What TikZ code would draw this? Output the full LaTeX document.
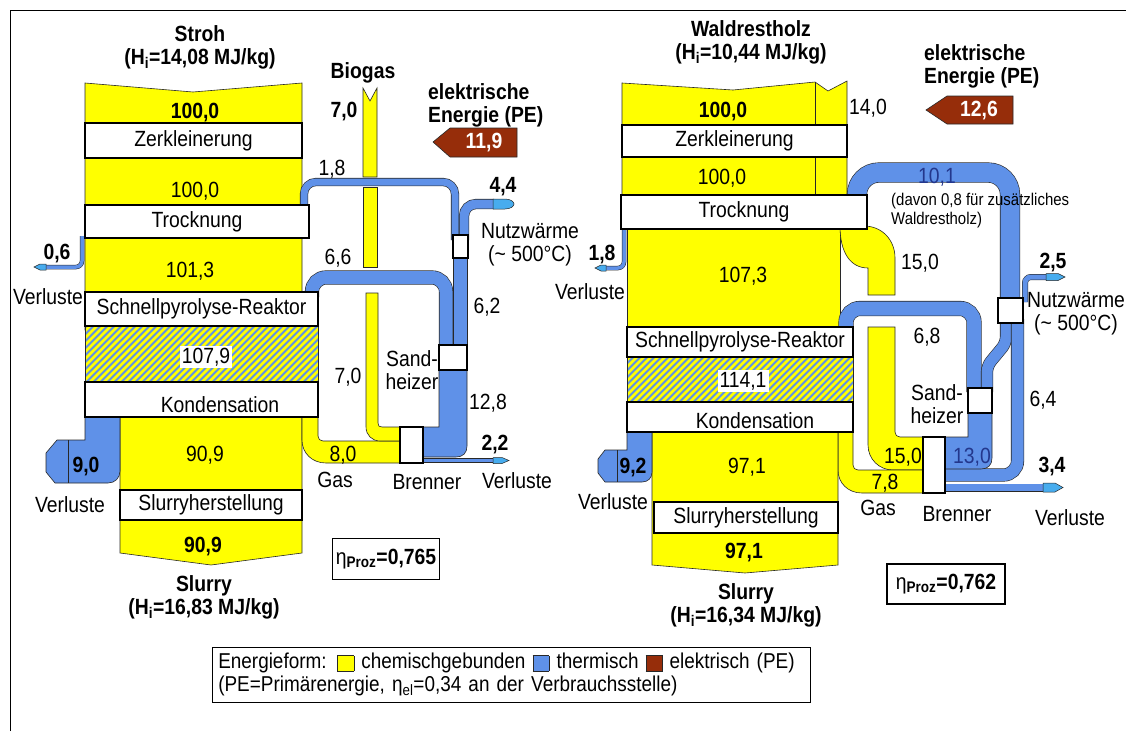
\documentclass[tikz,border=0pt]{standalone}
\usepackage{fontspec}
\setmainfont{Liberation Sans}[FakeStretch=0.88]

\definecolor{chemgelb}{RGB}{255,255,0}
\definecolor{waerme}{RGB}{95,145,232}
\definecolor{strom}{RGB}{150,45,10}
\definecolor{dunkelblau}{RGB}{35,55,140}
\definecolor{rand}{RGB}{40,40,40}

\newcommand{\gs}{\fontsize{22}{23}\selectfont}
\newcommand{\ks}{\fontsize{17}{19}\selectfont}
\newcommand{\farbfeld}[1]{\raisebox{-2pt}{\setlength{\fboxsep}{0pt}\fcolorbox{rand}{#1}{\rule{0pt}{15pt}\hspace{16pt}}}}

\tikzset{
  txt/.style={font=\gs, inner sep=1pt},
  fett/.style={font=\gs\bfseries, inner sep=1pt, align=center},
  klein/.style={font=\ks, inner sep=1pt, anchor=west},
  kasten/.style={draw=black, line width=1.3pt, fill=white, font=\gs, inner sep=0pt},
  chem/.style={fill=chemgelb, draw=rand, line width=0.6pt},
  therm/.style={fill=waerme, draw=rand, line width=0.6pt},
  rohr/.style={draw=rand, line width=0.6pt, double=waerme, double distance=#1, rounded corners=12pt},
  verlust/.style={draw=rand, line width=0.5pt, double=waerme, double distance=3.5pt, rounded corners=6pt},
  spitze/.style={fill=waerme!75!cyan, draw=rand, line width=0.5pt},
  strompfeil/.style={fill=strom, draw=rand, line width=0.6pt},
}

\begin{document}
\begin{tikzpicture}[x=1pt, y=-1pt]
    \fill[white] (0,0) rectangle (1126,731);
    \useasboundingbox (0,0) rectangle (1126,731);
    \draw[line width=1pt] (10,731) -- (10,10) -- (1126,10);

    % ---------- Stroh ----------
    \draw[chem] (85,83) -- (193,92) -- (302,83) -- (302,330) -- (85,330) -- cycle;
    \draw[chem] (120,415) -- (302,415) -- (302,553) -- (211,565) -- (120,553) -- cycle;
    \fill[waerme] (85,326) rectangle (318,382);
    \begin{scope}
        \clip (85,326) rectangle (318,382);
        \foreach \i in {20,27,...,320}
            \draw[chemgelb, line width=2.6pt] (\i,382) -- ++(56,-56);
    \end{scope}
    \draw[rand, line width=0.6pt] (85,326) -- (85,382) (318,326) -- (318,382);
    \draw[chem] (302,415) -- (318,415) -- (318,436) .. controls (318,439) and (320,441) .. (323,441) -- (402,441) -- (402,463) -- (326,463) .. controls (312,463) and (302,453) .. (302,440) -- cycle;
    \draw[chem] (363,88) -- (370,101) -- (377,88) -- (377,177) -- (363,177) -- cycle;
    \draw[chem] (363,187) rectangle (377,267);
    \draw[chem] (366,293) -- (378,293) -- (378,423) .. controls (378,426) and (379,427) .. (382,427) -- (402,427) -- (402,441) -- (380,441) .. controls (372,441) and (366,435) .. (366,427) -- cycle;

    \draw[verlust] (82,236) -- (82,267) -- (46,267);
    \draw[spitze] (46,264) -- (40,264) -- (34,267) -- (40,270) -- (46,270) -- cycle;
    \draw[therm] (85,415) -- (120,415) -- (120,471) .. controls (120,478) and (115,483) .. (108,483) -- (55,483) -- (46,472) -- (46,453) -- (57,440) -- (85,440) -- cycle;
    \draw[rand, line width=0.6pt] (68,440) -- (68,483);
    \draw[rohr=7pt] (304,210) -- (304,182) -- (455,182) -- (455,240);
    \draw[rohr=9pt] (464,240) -- (464,204) -- (494,204);
    \draw[spitze] (493,199) -- (505,199) .. controls (511,199) and (514,202) .. (514,204) .. controls (514,206) and (511,209) .. (505,209) -- (493,209) -- cycle;
    \draw[rohr=13pt] (460.5,253) -- (460.5,350);
    \draw[rohr=13pt, rounded corners=14pt] (312,297) -- (312,277.5) -- (446,277.5) -- (446,350);
    \draw[therm] (439,366) -- (467,366) -- (467,446) .. controls (467,453) and (463,457) .. (456,457) -- (423,457) -- (423,427) -- (439,427) -- cycle;
    \draw[verlust] (421,460.5) -- (493,460.5);
    \draw[spitze] (493,457.5) -- (502,457.5) -- (509,460.5) -- (502,463.5) -- (493,463.5) -- cycle;
    \draw[strompfeil] (433,142) -- (450,128) -- (517,128) -- (517,157) -- (450,157) -- cycle;

    \node[kasten, minimum width=217, minimum height=35] (zerkA) at (193.5,140.5) {Zerkleinerung};
    \node[kasten, minimum width=224, minimum height=33] (trockA) at (197,221.5) {Trocknung};
    \node[kasten, minimum width=233, minimum height=34] (reaktA) at (201.5,309) {Schnellpyrolyse-Reaktor};
    \node[kasten, minimum width=233, minimum height=35] (kondA) at (201.5,399.5) {};
    \node[kasten, minimum width=182, minimum height=30] (slurA) at (211,505) {Slurryherstellung};
    \node[kasten, minimum width=23, minimum height=36] (brennA) at (411.5,445) {};
    \node[kasten, minimum width=28, minimum height=25] (hxA) at (453,357.5) {};
    \node[kasten, minimum width=15, minimum height=23] (nutzA) at (460.5,246.5) {};

    \node[fett] (strohA) at (200,47) {Stroh\\(H\textsubscript{i}=14,08 MJ/kg)};
    \node[fett] (biogasA) at (363,73) {Biogas};
    \node[fett] (bioA) at (344,112) {7,0};
    \node[fett, anchor=west, align=left] (elA) at (427,105) {elektrische\\Energie (PE)};
    \node[fett, text=white] (peA) at (484,143) {11,9};
    \node[fett] (inA) at (195,113) {100,0};
    \node[txt] (zkA) at (195,191) {100,0};
    \node[txt] (tr18A) at (332,169) {1,8};
    \node[fett] (nw44A) at (503,187) {4,4};
    \node[txt, align=center] (nwA) at (530,245) {Nutzwärme\\(\textasciitilde{} 500°C)};
    \node[fett] (v06A) at (57,254) {0,6};
    \node[txt] (v1A) at (48,297) {Verluste};
    \node[txt] (trA) at (190,271) {101,3};
    \node[txt] (r66A) at (338,258) {6,6};
    \node[txt, fill=white, inner sep=2pt] (pyA) at (206,357) {107,9};
    \node[txt] (h62A) at (487,307) {6,2};
    \node[txt] (g70A) at (348,377) {7,0};
    \node[txt, align=center] (sandA) at (412,370) {Sand-\\heizer};
    \node[txt] (h128A) at (488,403) {12,8};
    \node[txt] (kondtA) at (220,405) {Kondensation};
    \node[fett] (v22A) at (495,445) {2,2};
    \node[txt] (g80A) at (343,455) {8,0};
    \node[txt] (kdA) at (205,455) {90,9};
    \node[fett] (v90A) at (86,467) {9,0};
    \node[txt] (gasA) at (335,480) {Gas};
    \node[txt] (brA) at (427,482) {Brenner};
    \node[txt] (v3A) at (517,481) {Verluste};
    \node[txt] (v2A) at (70,505) {Verluste};
    \node[fett] (outA) at (203,547) {90,9};
    \node[fett] (slurryA) at (204,597) {Slurry\\(H\textsubscript{i}=16,83 MJ/kg)};
    \node[draw, line width=1.3pt, minimum width=105, minimum height=41, font=\gs] (etaA) at (386,559) {η\textsubscript{\bfseries Proz}\textbf{=0,765}};

    % ---------- Waldrestholz ----------
    \draw[chem] (622,83) -- (733,90) -- (815,82) -- (828,91) -- (847,81) -- (847,199) -- (622,199) -- cycle;
    \draw[rand, line width=0.6pt] (815,82) -- (815,199);
    \draw[chem] (627,225) -- (840,225) -- (840,331) -- (627,331) -- cycle;
    \draw[chem] (840,226) .. controls (840,252) and (850,268) .. (868,268) -- (868,295) -- (895,295) -- (895,258) .. controls (895,240) and (882,226) .. (864,226) -- cycle;
    \draw[chem] (868,327) -- (895,327) -- (895,432) .. controls (895,435) and (897,437) .. (900,437) -- (925,437) -- (925,470) -- (893,470) .. controls (879,470) and (868,459) .. (868,445) -- cycle;
    \draw[chem] (838,428) -- (853,428) -- (853,465) .. controls (853,468) and (855,470) .. (858,470) -- (925,470) -- (925,493) -- (862,493) .. controls (848,493) and (838,483) .. (838,470) -- cycle;
    \draw[chem] (652,428) -- (838,428) -- (838,565) -- (745,573) -- (652,565) -- cycle;
    \fill[waerme] (627,357) rectangle (853,402);
    \begin{scope}
        \clip (627,357) rectangle (853,402);
        \foreach \i in {578,585,...,860}
            \draw[chemgelb, line width=2.6pt] (\i,402) -- ++(45,-45);
    \end{scope}
    \draw[rand, line width=0.6pt] (627,357) -- (627,402) (853,357) -- (853,402);

    \draw[verlust] (624,226) -- (624,268) -- (606,268);
    \draw[spitze] (606,265) -- (601,265) -- (595,268) -- (601,271) -- (606,271) -- cycle;
    \draw[therm] (627,428) -- (652,428) -- (652,472) .. controls (652,478) and (648,482) .. (642,482) -- (605,482) -- (598,473) -- (598,459) -- (605,450) -- (627,450) -- cycle;
    \draw[rand, line width=0.6pt] (617,450) -- (617,482);
    \draw[rohr=19pt, rounded corners=22pt] (857,200) -- (857,172.5) -- (1010,172.5) -- (1010,303);
    \draw[verlust, double distance=5pt] (1025,302) -- (1025,277) -- (1046,277);
    \draw[spitze] (1046,273.5) -- (1058,273.5) -- (1065,277) -- (1058,280.5) -- (1046,280.5) -- cycle;
    \draw[rohr=14pt, rounded corners=14pt] (846,331) -- (846,308.5) -- (974,308.5) -- (974,392);
    \draw[rohr=11pt, rounded corners=6pt] (987,392) -- (987,366) -- (1006,343) -- (1006,319);
    \draw[rohr=12pt, rounded corners=14pt] (1017.5,319) -- (1017.5,475) -- (943,475);
    \draw[therm] (968,409) -- (992,409) -- (992,458) .. controls (992,465) and (988,469) .. (981,469) -- (943,469) -- (943,437) -- (968,437) -- cycle;
    \draw[verlust, double distance=7pt] (943,487.5) -- (1043,487.5);
    \draw[spitze] (1043,483) -- (1055,483) -- (1063,487.5) -- (1055,492) -- (1043,492) -- cycle;
    \draw[strompfeil] (926,110) -- (947,96) -- (1013,96) -- (1013,124) -- (947,124) -- cycle;

    \node[kasten, minimum width=225, minimum height=32] (zerkB) at (734.5,141) {Zerkleinerung};
    \node[kasten, minimum width=246, minimum height=34] (trockB) at (744,212) {Trocknung};
    \node[kasten, minimum width=226, minimum height=30] (reaktB) at (740,342) {Schnellpyrolyse-Reaktor};
    \node[kasten, minimum width=226, minimum height=30] (kondB) at (740,417) {};
    \node[kasten, minimum width=184, minimum height=31] (slurB) at (746,517.5) {Slurryherstellung};
    \node[kasten, minimum width=22, minimum height=56] (brennB) at (934,465) {};
    \node[kasten, minimum width=24, minimum height=25] (hxB) at (980,400.5) {};
    \node[kasten, minimum width=25, minimum height=25] (nutzB) at (1010.5,310.5) {};

    \node[fett] (holzB) at (751,42) {Waldrestholz\\(H\textsubscript{i}=10,44 MJ/kg)};
    \node[fett] (inB) at (723,112) {100,0};
    \node[txt] (zusB) at (868,108) {14,0};
    \node[txt] (zkB) at (722,178) {100,0};
    \node[fett, anchor=west, align=left] (elB) at (923,66) {elektrische\\Energie (PE)};
    \node[fett, text=white] (peB) at (979,111) {12,6};
    \node[txt, text=dunkelblau] (tr101B) at (937,177) {10,1};
    \node[klein, align=left] (davonB) at (890,211) {(davon 0,8 für zusätzliches\\Waldrestholz)};
    \node[txt] (g150B) at (920,263) {15,0};
    \node[fett] (nw25B) at (1053,263) {2,5};
    \node[fett] (v18B) at (602,255) {1,8};
    \node[txt] (v1B) at (590,292) {Verluste};
    \node[txt] (trB) at (743,276) {107,3};
    \node[txt, align=center] (nwB) at (1076,314) {Nutzwärme\\(\textasciitilde{} 500°C)};
    \node[txt] (r68B) at (927,337) {6,8};
    \node[txt, fill=white, inner sep=2pt] (pyB) at (743,381) {114,1};
    \node[txt, align=center] (sandB) at (937,404) {Sand-\\heizer};
    \node[txt] (h64B) at (1043,400) {6,4};
    \node[txt] (kondtB) at (755,421) {Kondensation};
    \node[fett] (v92B) at (633,468) {9,2};
    \node[txt] (kdB) at (747,467) {97,1};
    \node[txt] (g15B) at (903,457) {15,0};
    \node[txt, text=dunkelblau] (h130B) at (972,457) {13,0};
    \node[fett] (v34B) at (1052,467) {3,4};
    \node[txt] (g78B) at (885,483) {7,8};
    \node[txt] (gasB) at (878,508) {Gas};
    \node[txt] (brB) at (957,514) {Brenner};
    \node[txt] (v2B) at (613,502) {Verluste};
    \node[txt] (v3B) at (1070,518) {Verluste};
    \node[fett] (outB) at (744,553) {97,1};
    \node[fett] (slurryB) at (746,605) {Slurry\\(H\textsubscript{i}=16,34 MJ/kg)};
    \node[draw, line width=1.3pt, minimum width=118, minimum height=40, font=\gs] (etaB) at (946,584) {η\textsubscript{\bfseries Proz}\textbf{=0,762}};

    % ---------- Legende ----------
    \node[draw, line width=0.6pt, anchor=north west, align=left, text width=586, inner sep=6pt, font=\fontsize{21.5}{23}\selectfont] (legende) at (212,647) {Energieform: \farbfeld{chemgelb} chemischgebunden \farbfeld{waerme} thermisch \farbfeld{strom} elektrisch~(PE)\\(PE=Primärenergie, η\textsubscript{el}=0,34 an der Verbrauchsstelle)};
\end{tikzpicture}
\end{document}
